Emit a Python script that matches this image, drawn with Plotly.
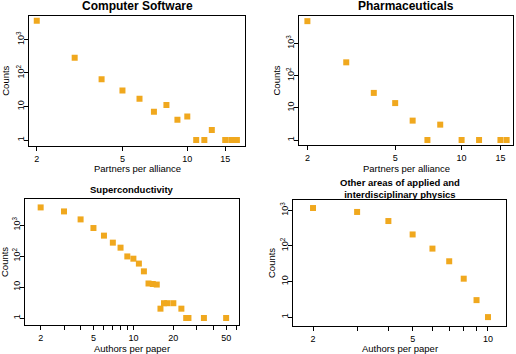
import plotly.graph_objects as go

# ---------------- data ----------------
cs_x = [2, 3, 4, 5, 6, 7, 8, 9, 10, 11, 12, 13, 15, 16, 17]
cs_y = [3600, 286, 65, 30, 17, 7, 11, 4, 5, 1, 1, 2, 1, 1, 1]

ph_x = [2, 3, 4, 5, 6, 7, 8, 10, 12, 15, 16]
ph_y = [4900, 258, 29, 14, 4, 1, 3, 1, 1, 1, 1]

sc_x = [2, 3, 4, 5, 6, 7, 8, 9, 10, 11, 12, 13, 14, 15, 16, 17, 18, 20, 23, 25, 26, 34, 50]
sc_y = [3700, 2750, 1520, 800, 455, 270, 186, 97, 82, 57, 32, 13, 12.5, 12, 2, 3, 3, 3, 2, 1, 1, 1, 1]

ot_x = [2, 3, 4, 5, 6, 7, 8, 9, 10]
ot_y = [1160, 900, 500, 210, 84, 37, 12, 3, 1]

titles = ["Computer Software", "Pharmaceuticals", "Superconductivity",
          "Other areas of applied and<br>interdisciplinary physics"]
x_titles = ["Partners per alliance", "Partners per alliance",
            "Authors per paper", "Authors per paper"]
y_title = "Counts"

y_tickvals = [1, 10, 100, 1000]
y_ticktext = ["1", "10", "10<sup>2</sup>", "10<sup>3</sup>"]

x_tickvals_top = [2, 5, 10, 15]
x_ticktext_top = ["2", "5", "10", "15"]
x_tickvals_sc = [2, 5, 10, 20, 50]
x_ticktext_sc = ["2", "5", "10", "20", "50"]
x_minor_sc = [3, 4, 6, 7, 8, 9, 30, 40, 60]
x_tickvals_ot = [2, 5, 10]
x_ticktext_ot = ["2", "5", "10"]
x_minor_ot = [3, 4, 6, 7, 8, 9]

# ---------------- layout helpers ----------------
W, H = 516, 354
FONT = "Liberation Sans, Arial, Helvetica, sans-serif"
COLOR = "#F0A81E"

panels = [
    dict(x=cs_x, y=cs_y, box=(29, 245, 15.5, 146), xr=[0.265, 1.268], yr=[-0.179, 3.716],
         xt=(x_tickvals_top, x_ticktext_top, []), title=titles[0], tsize=12, ty=6,
         xlab=x_titles[0], xly=168.5, ylx=6),
    dict(x=ph_x, y=ph_y, box=(299, 513, 16, 145), xr=[0.263, 1.233], yr=[-0.155, 3.85],
         xt=(x_tickvals_top, x_ticktext_top, []), title=titles[1], tsize=12, ty=6,
         xlab=x_titles[1], xly=168.5, ylx=276),
    dict(x=sc_x, y=sc_y, box=(25, 239, 199, 325), xr=[0.183, 1.796], yr=[-0.226, 3.84],
         xt=(x_tickvals_sc, x_ticktext_sc, x_minor_sc), title=titles[2], tsize=9.5, ty=189,
         xlab=x_titles[2], xly=348, ylx=4),
    dict(x=ot_x, y=ot_y, box=(293, 506, 200, 326), xr=[0.221, 1.072], yr=[-0.25, 3.29],
         xt=(x_tickvals_ot, x_ticktext_ot, x_minor_ot), title=titles[3], tsize=9.5, ty=188,
         xlab=x_titles[3], xly=348, ylx=271),
]

fig = go.Figure()
annotations = []
layout = {}
for i, p in enumerate(panels, start=1):
    sfx = "" if i == 1 else str(i)
    l, r, t, b = p["box"]
    fig.add_trace(go.Scatter(
        x=p["x"], y=p["y"], mode="markers",
        marker=dict(symbol="square", size=6, color=COLOR, line=dict(width=0)),
        xaxis="x" + sfx, yaxis="y" + sfx, showlegend=False,
    ))
    axis_common = dict(
        showline=True, linecolor="black", linewidth=1, mirror=True,
        ticks="outside", ticklen=4, tickwidth=1, tickcolor="black",
        showgrid=False, zeroline=False,
        tickfont=dict(family=FONT, size=9, color="black"),
    )
    xa = dict(
        type="log", domain=[l / W, r / W], range=p["xr"], anchor="y" + sfx,
        tickmode="array", tickvals=p["xt"][0], ticktext=p["xt"][1], tickangle=0,
        **axis_common)
    if p["xt"][2]:
        xa["minor"] = dict(tickmode="array", tickvals=p["xt"][2], ticks="outside",
                           ticklen=4, tickwidth=1, tickcolor="black", showgrid=False)
    layout["xaxis" + sfx] = xa
    layout["yaxis" + sfx] = dict(
        type="log", domain=[1 - b / H, 1 - t / H], range=p["yr"], anchor="x" + sfx,
        tickmode="array", tickvals=y_tickvals, ticktext=y_ticktext, tickangle=-90,
        ticklabelstandoff=-4, **axis_common)
    cx = (l + r) / 2
    annotations.append(dict(
        text="<b>" + p["title"] + "</b>", x=cx / W, y=1 - p["ty"] / H,
        xref="paper", yref="paper", xanchor="center", yanchor="middle",
        showarrow=False, font=dict(family=FONT, size=p["tsize"], color="black")))
    annotations.append(dict(
        text=p["xlab"], x=cx / W, y=1 - p["xly"] / H,
        xref="paper", yref="paper", xanchor="center", yanchor="middle",
        showarrow=False, font=dict(family=FONT, size=9.5, color="black")))
    annotations.append(dict(
        text=y_title, x=p["ylx"] / W, y=1 - ((t + b) / 2) / H, textangle=-90,
        xref="paper", yref="paper", xanchor="center", yanchor="middle",
        showarrow=False, font=dict(family=FONT, size=9.5, color="black")))

fig.update_layout(
    width=W, height=H, margin=dict(l=0, r=0, t=0, b=0),
    paper_bgcolor="white", plot_bgcolor="white",
    annotations=annotations, **layout,
)
fig.write_html("out.html", config={"displayModeBar": False},
               post_script="document.body.style.margin='0';document.body.style.overflow='hidden';")
